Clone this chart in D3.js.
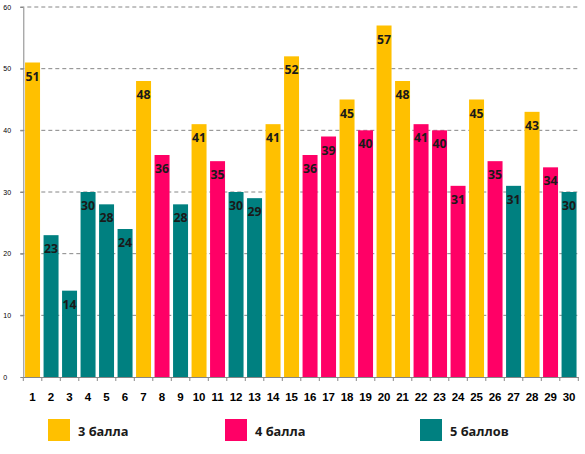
<!DOCTYPE html>
<html>
<head>
<meta charset="utf-8">
<script src="https://cdn.jsdelivr.net/npm/d3@7"></script>
<style>
  body { margin: 0; background: #fff; }
  svg { display: block; font-family: "Open Sans", "Noto Sans", sans-serif; }
</style>
</head>
<body>
<div id="chart"></div>
<script>
// номера и результаты
var numbers = d3.range(1, 31);
var values = [51, 23, 14, 30, 28, 24, 48, 36, 28, 41, 35, 30, 29, 41, 52,
              36, 39, 45, 40, 57, 48, 41, 40, 31, 45, 35, 31, 43, 34, 30];
var grades = [3, 5, 5, 5, 5, 5, 3, 4, 5, 3, 4, 5, 5, 3, 3,
              4, 4, 3, 4, 3, 3, 4, 4, 4, 3, 4, 5, 3, 4, 5];
var legendGrades = [3, 4, 5];
var legendNames = ["3 балла", "4 балла", "5 баллов"];
var yTicks = [0, 10, 20, 30, 40, 50, 60];

var width = 585, height = 454;
var plotLeft = 23.3, plotRight = 578.3, plotTop = 7, plotBottom = 377;

var svg = d3.select("#chart")
            .append("svg")
            .attr("width", width)
            .attr("height", height);

var color = d3.scaleOrdinal()
              .domain(legendGrades)
              .range(["#FFC000", "#FF0066", "#008080"]);

var scaleX = d3.scaleBand()
               .domain(numbers)
               .range([plotLeft, plotRight])
               .paddingInner(0.19)
               .paddingOuter(0.095);

var scaleY = d3.scaleLinear()
               .domain([0, 60])
               .range([plotBottom, plotTop]);

// сетка
svg.append("g")
   .selectAll("line")
   .data(yTicks.filter(d => d > 0))
   .enter()
   .append("line")
   .attr("x1", plotLeft - 3)
   .attr("x2", plotRight)
   .attr("y1", d => scaleY(d))
   .attr("y2", d => scaleY(d))
   .attr("stroke", "#868686")
   .attr("stroke-width", 1)
   .attr("stroke-dasharray", "4,3");

// ось Y
var yaxis = d3.axisLeft(scaleY).tickValues(yTicks).tickSize(3).tickSizeOuter(0);
var gy = svg.append("g").attr("transform", "translate(" + plotLeft + ",0)").call(yaxis);
gy.select(".domain").attr("stroke", "#868686");
gy.selectAll(".tick line").attr("stroke", "#868686");
gy.selectAll(".tick text")
  .attr("x", -20)
  .attr("text-anchor", "start")
  .attr("font-size", 7)
  .attr("fill", "#000");

// столбцы
svg.append("g")
   .selectAll("rect")
   .data(values)
   .enter()
   .append("rect")
   .attr("x", (d, i) => scaleX(numbers[i]))
   .attr("y", d => scaleY(d))
   .attr("width", scaleX.bandwidth())
   .attr("height", d => plotBottom - scaleY(d))
   .attr("fill", (d, i) => color(grades[i]));

// подписи значений
svg.append("g")
   .selectAll("text")
   .data(values)
   .enter()
   .append("text")
   .attr("x", (d, i) => scaleX(numbers[i]) + scaleX.bandwidth() / 2)
   .attr("y", d => scaleY(d) + 18)
   .attr("text-anchor", "middle")
   .attr("font-size", 12.3)
   .attr("font-weight", "bold")
   .attr("fill", "#1a1a1a")
   .text(d => d);

// ось X
var xaxis = d3.axisBottom(scaleX).tickSize(0).tickSizeOuter(0);
var gx = svg.append("g").attr("transform", "translate(0," + plotBottom + ")").call(xaxis);
gx.select(".domain").attr("stroke", "#868686");
gx.selectAll(".tick text")
  .attr("y", 16)
  .attr("font-size", 11.5)
  .attr("font-weight", "bold")
  .attr("fill", "#000");

// засечки между категориями
var step = scaleX.step();
svg.append("g")
   .selectAll("line")
   .data(d3.range(0, numbers.length + 1))
   .enter()
   .append("line")
   .attr("x1", d => plotLeft + d * step)
   .attr("x2", d => plotLeft + d * step)
   .attr("y1", plotBottom)
   .attr("y2", plotBottom + 4)
   .attr("stroke", "#868686");

// легенда
var legendX = [48, 225, 420];
var legend = svg.append("g")
   .selectAll("g")
   .data(legendGrades)
   .enter()
   .append("g")
   .attr("transform", (d, i) => "translate(" + legendX[i] + ",419)");

legend.append("rect")
      .attr("width", 22)
      .attr("height", 22)
      .attr("fill", d => color(d));

legend.append("text")
      .attr("x", 30)
      .attr("y", 16.5)
      .attr("font-size", 12.8)
      .attr("font-weight", "bold")
      .attr("fill", "#1a1a1a")
      .text((d, i) => legendNames[i]);
</script>
</body>
</html>
